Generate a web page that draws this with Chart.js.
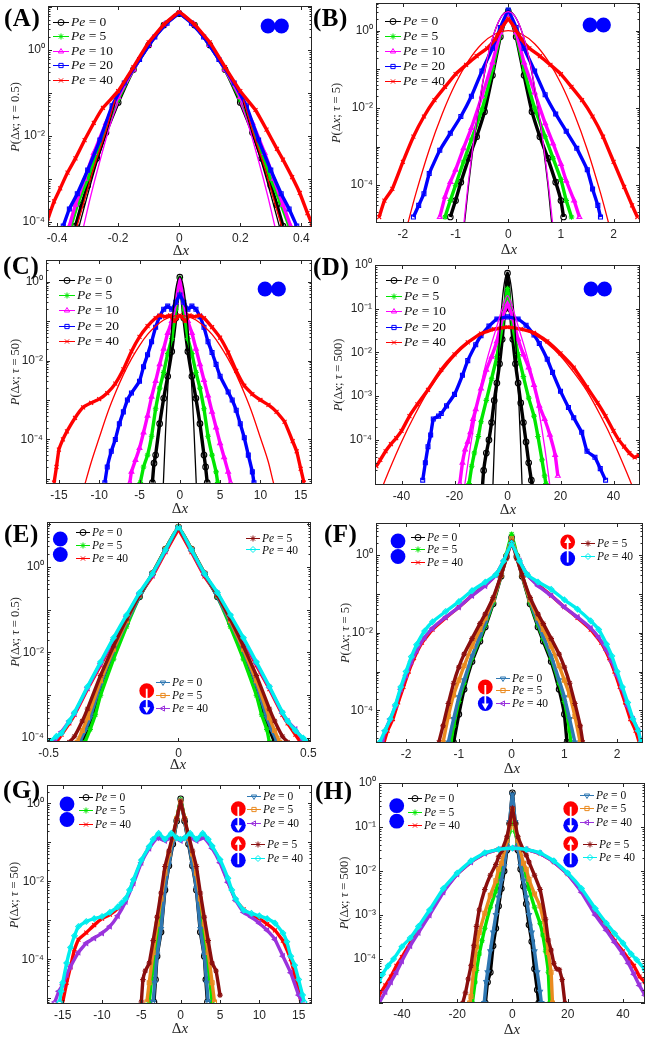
<!DOCTYPE html>
<html>
<head>
<meta charset="utf-8">
<script src="https://cdn.jsdelivr.net/npm/chart.js@4.4.1/dist/chart.umd.min.js"></script>
<style>
  body { margin: 0; width: 648px; height: 1042px; position: relative; background: #fff; overflow: hidden; font-family: "Liberation Serif", "DejaVu Serif", serif; }
  .cv { position: absolute; }
  .plab { position: absolute; font-weight: bold; font-size: 25px; line-height: 1; letter-spacing: 0.5px; color: #000; }
  .xlab, .ylab { position: absolute; white-space: nowrap; color: #262626; line-height: 1; }
  .xlab { font-size: 15px; transform: translate(-50%, -50%); }
  .ylab { font-size: 12.5px; transform: translate(-50%, -50%) rotate(-90deg); }
  .leg { position: absolute; }
  .row { display: flex; align-items: center; white-space: nowrap; color: #111; }
  .row canvas { margin-right: 2px; }
  svg.icons { position: absolute; left: 0; top: 0; pointer-events: none; }
</style>
</head>
<body>
<script>
// ---- tick values ----
const xTicksA = [-0.4, -0.2, 0, 0.2, 0.4];
const xTicksB = [-2, -1, 0, 1, 2];
const xTicksC = [-15, -10, -5, 0, 5, 10, 15];
const xTicksD = [-40, -20, 0, 20, 40];
const xTicksE = [-0.5, 0, 0.5];
const yTicks3 = [1e-4, 1e-2, 1];
const yTicks5 = [1e-4, 1e-3, 1e-2, 1e-1, 1];

// Pe labels for the legends
const peAD = ['0', '5', '10', '20', '40'];
const pePar = ['0', '5', '40'];
const peDown = ['0', '5', '40'];
const peUp = ['5', '40'];

// ---- (A) tau = 0.5 ----
const aPe0 = [[-0.34,8e-5],[-0.32,2.5e-4],[-0.3,7e-4],[-0.27,3e-3],[-0.24,0.012],[-0.2,0.06],[-0.15,0.35],[-0.1,1.3],[-0.05,3.8],[0,7],[0.05,3.8],[0.1,1.3],[0.15,0.35],[0.2,0.06],[0.24,0.012],[0.27,3e-3],[0.3,7e-4],[0.32,2.5e-4],[0.34,8e-5]];
const aPe5 = [[-0.355,8e-5],[-0.33,3e-4],[-0.3,1e-3],[-0.27,4e-3],[-0.24,0.015],[-0.2,0.07],[-0.15,0.35],[-0.1,1.3],[-0.05,3.8],[0,7.2],[0.05,3.8],[0.1,1.3],[0.15,0.35],[0.2,0.07],[0.24,0.015],[0.27,4e-3],[0.3,1e-3],[0.33,3e-4],[0.36,8e-5]];
const aPe10 = [[-0.36,8e-5],[-0.34,2.5e-4],[-0.31,1e-3],[-0.28,4e-3],[-0.24,0.02],[-0.2,0.08],[-0.15,0.35],[-0.1,1.3],[-0.05,3.8],[0,7.2],[0.05,3.8],[0.1,1.3],[0.15,0.35],[0.2,0.08],[0.24,0.02],[0.28,4e-3],[0.31,1e-3],[0.34,2.5e-4],[0.365,8e-5]];
const aPe20 = [[-0.38,8e-5],[-0.36,2e-4],[-0.334,4.5e-4],[-0.3,1.6e-3],[-0.26,8e-3],[-0.22,0.05],[-0.18,0.17],[-0.13,0.6],[-0.08,2],[-0.04,4.2],[0,7],[0.04,4.2],[0.08,2],[0.13,0.6],[0.18,0.17],[0.22,0.05],[0.26,8e-3],[0.3,1.6e-3],[0.334,4.5e-4],[0.36,2e-4],[0.385,8e-5]];
const aPe40 = [[-0.43,1.2e-4],[-0.41,3e-4],[-0.39,6e-4],[-0.366,1.4e-3],[-0.34,3e-3],[-0.31,8e-3],[-0.28,0.02],[-0.25,0.045],[-0.2,0.11],[-0.15,0.4],[-0.1,1.5],[-0.05,3.9],[0,7.5],[0.05,3.9],[0.1,1.5],[0.15,0.4],[0.2,0.11],[0.25,0.04],[0.286,0.014],[0.32,5e-3],[0.34,2.8e-3],[0.37,1.1e-3],[0.395,4.7e-4],[0.42,1.6e-4],[0.435,9e-5]];
// fitted curves: only the tails show past the markers
const aFit0 = [[-0.33,7e-5],[-0.3,4.3e-4],[-0.27,2.4e-3],[-0.24,0.011],[-0.21,0.06],[0,null],[0.21,0.06],[0.24,0.011],[0.27,2.4e-3],[0.3,4.3e-4],[0.33,7e-5]];
const aFit40 = [[-0.34,6e-5],[-0.31,3.3e-4],[-0.28,1.8e-3],[-0.24,0.013],[-0.21,0.07],[0,null],[0.21,0.07],[0.24,0.013],[0.28,1.8e-3],[0.31,3.3e-4],[0.34,6e-5]];
const aFit10 = [[-0.315,7e-5],[-0.29,4e-4],[-0.26,2.6e-3],[-0.22,0.025],[-0.2,0.06],[0,null],[0.2,0.06],[0.22,0.025],[0.26,2.6e-3],[0.29,4e-4],[0.315,7e-5]];

// ---- (B) tau = 5 ----
const bPe0 = [[-1.1,1.5e-5],[-1,4e-5],[-0.9,1.2e-4],[-0.75,5e-4],[-0.6,1.8e-3],[-0.45,8e-3],[-0.3,0.07],[-0.15,0.7],[0,3.2],[0.15,0.7],[0.3,0.07],[0.45,8e-3],[0.6,1.8e-3],[0.75,5e-4],[0.9,1.2e-4],[1,4e-5],[1.05,1.5e-5]];
const bPe5 = [[-1.2,1.5e-5],[-1.1,4e-5],[-1,1e-4],[-0.85,4e-4],[-0.7,1.5e-3],[-0.5,9e-3],[-0.3,0.1],[-0.15,0.8],[0,3.4],[0.15,0.8],[0.3,0.1],[0.5,0.01],[0.7,1.8e-3],[0.85,5e-4],[1,1.4e-4],[1.1,4e-5],[1.2,1.5e-5]];
const bPe10 = [[-1.3,1.5e-5],[-1.2,5e-5],[-1.1,1.2e-4],[-1,2.5e-4],[-0.85,9e-4],[-0.7,3e-3],[-0.5,0.02],[-0.3,0.15],[-0.15,0.9],[0,3.1],[0.15,0.9],[0.3,0.15],[0.5,0.025],[0.7,4e-3],[0.85,1.2e-3],[1,3.5e-4],[1.1,1.3e-4],[1.25,4e-5],[1.35,1.5e-5]];
const bPe20 = [[-1.8,1.5e-5],[-1.7,3e-5],[-1.6,6e-5],[-1.5,2e-4],[-1.3,8e-4],[-1.1,2.2e-3],[-0.9,6e-3],[-0.7,0.02],[-0.5,0.09],[-0.3,0.35],[-0.15,1.2],[0,3.4],[0.15,1.2],[0.3,0.35],[0.5,0.09],[0.7,0.022],[0.9,7e-3],[1.1,2.5e-3],[1.3,9e-4],[1.5,2.5e-4],[1.6,8e-5],[1.7,3e-5],[1.75,1.5e-5]];
const bPe40 = [[-2.45,1.5e-5],[-2.35,4e-5],[-2.2,8e-5],[-2,4e-4],[-1.8,1.8e-3],[-1.6,6e-3],[-1.4,0.016],[-1.2,0.035],[-1,0.075],[-0.8,0.13],[-0.6,0.22],[-0.4,0.35],[-0.25,0.6],[-0.12,1.2],[0,2],[0.12,1.2],[0.25,0.6],[0.4,0.35],[0.6,0.22],[0.8,0.13],[1,0.075],[1.2,0.035],[1.4,0.016],[1.6,6e-3],[1.8,1.8e-3],[2,4e-4],[2.2,9e-5],[2.35,3e-5],[2.45,1.5e-5]];
const bFit40 = [[-1.95,6e-6],[-1.9,1.1e-5],[-1.75,6.3e-5],[-1.5,8.3e-4],[-1.25,7.2e-3],[-1,0.043],[-0.75,0.17],[-0.5,0.46],[-0.25,0.82],[0,1],[0.25,0.82],[0.5,0.46],[0.75,0.17],[1,0.043],[1.25,7.2e-3],[1.5,8.3e-4],[1.75,6.3e-5],[1.9,1.1e-5],[1.95,6e-6]];
const bFit0 = [[-0.86,6e-6],[-0.84,8.5e-6],[-0.75,1.1e-4],[-0.6,4.5e-3],[-0.45,0.08],[-0.3,0.62],[-0.15,2.1],[0,3.2],[0.15,2.1],[0.3,0.62],[0.45,0.08],[0.6,4.5e-3],[0.75,1.1e-4],[0.82,1.2e-5],[0.84,7e-6]];
const bFit10 = [[-0.85,8e-6],[-0.76,1.1e-4],[-0.6,5e-3],[-0.45,0.085],[-0.3,0.63],[-0.15,2.1],[0,3.1],[0.15,2.1],[0.3,0.63],[0.45,0.085],[0.6,5e-3],[0.76,1.1e-4],[0.85,8e-6]];

// ---- (C) tau = 50 ----
const cPe0 = [[-3.4,8e-6],[-3.2,2.5e-5],[-3,4e-5],[-2.5,2.5e-4],[-2,1.1e-3],[-1.5,4e-3],[-1,0.017],[-0.5,0.12],[0,1.3],[0.5,0.12],[1,0.017],[1.5,4e-3],[2,1.1e-3],[2.5,2.5e-4],[3,4e-5],[3.2,2e-5],[3.4,8e-6]];
const cPe5 = [[-4.9,8e-6],[-4.5,2e-5],[-4,4e-5],[-3.5,1.2e-4],[-3,6e-4],[-2.5,2e-3],[-2,5e-3],[-1.5,0.015],[-1,0.036],[-0.5,0.2],[0,1.2],[0.5,0.2],[1,0.036],[1.5,0.015],[2,5e-3],[2.5,2e-3],[3,6e-4],[3.5,1.2e-4],[4,4e-5],[4.5,1.5e-5],[4.7,8e-6]];
const cPe10 = [[-6.2,8e-6],[-6,1.5e-5],[-5.5,3e-5],[-5,6e-5],[-4.5,1.5e-4],[-4,4e-4],[-3.5,1.2e-3],[-3,3e-3],[-2.5,8e-3],[-2,0.02],[-1.5,0.05],[-1,0.1],[-0.5,0.3],[0,1.1],[0.5,0.3],[1,0.1],[1.5,0.05],[2,0.02],[2.5,8e-3],[3,3.2e-3],[3.5,1.3e-3],[4,5e-4],[4.5,2e-4],[5,8e-5],[5.5,3.5e-5],[6,1.5e-5],[6.3,8e-6]];
const cPe20 = [[-9.3,8e-6],[-9,2e-5],[-8.5,5e-5],[-8,1e-4],[-7.5,2.5e-4],[-7,5e-4],[-6.5,1e-3],[-6,1.5e-3],[-5,3e-3],[-4.5,7e-3],[-4,0.014],[-3.5,0.03],[-3,0.07],[-2.5,0.13],[-2,0.2],[-1.5,0.24],[-1,0.2],[-0.5,0.3],[0,0.46],[0.5,0.3],[1,0.2],[1.5,0.24],[2,0.2],[2.5,0.13],[3,0.07],[3.5,0.03],[4,0.016],[4.5,8e-3],[5,4e-3],[6,1.6e-3],[6.5,1e-3],[7,5.5e-4],[7.5,2.5e-4],[8,1.1e-4],[8.5,4e-5],[9,1.5e-5],[9.2,8e-6]];
const cPe40 = [[-15.6,8e-6],[-15.3,2e-5],[-15,5.5e-5],[-14.5,1e-4],[-14,1.6e-4],[-13,3.5e-4],[-12,6.5e-4],[-11,8.5e-4],[-10,1.05e-3],[-9,1.5e-3],[-8,2.6e-3],[-7,6e-3],[-6,0.017],[-5,0.04],[-4,0.075],[-3,0.12],[-2.5,0.14],[-1.8,0.13],[-1.2,0.14],[-0.7,0.1],[0,0.14],[0.7,0.1],[1.2,0.14],[1.8,0.13],[2.5,0.14],[3,0.12],[4,0.07],[5,0.038],[6,0.016],[7,5.5e-3],[8,2.3e-3],[9,1.4e-3],[10,1e-3],[11,7.5e-4],[12,5e-4],[13,2.8e-4],[14,9e-5],[14.5,5e-5],[15,1.8e-5],[15.4,8e-6]];
const cFit40 = [[-12,5e-6],[-11.8,7e-6],[-11,2.6e-5],[-10,1.1e-4],[-9,4.5e-4],[-8,1.5e-3],[-7,4.4e-3],[-6,0.011],[-5,0.024],[-4,0.046],[-3,0.074],[-2,0.107],[-1,0.13],[0,0.14],[1,0.13],[2,0.107],[3,0.074],[4,0.046],[5,0.024],[6,0.011],[7,4.4e-3],[8,1.5e-3],[9,4.5e-4],[10,1.1e-4],[11,2.6e-5],[11.7,7e-6],[12,5e-6]];
const cFit0 = [[-2.1,4e-6],[-2,1.2e-5],[-1.75,1.9e-4],[-1.5,1.9e-3],[-1.25,0.014],[-1,0.074],[-0.5,0.65],[0,1.35],[0.5,0.65],[1,0.074],[1.25,0.014],[1.5,1.9e-3],[1.75,1.9e-4],[2,1.2e-5],[2.1,4e-6]];

// ---- (D) tau = 500 ----
const dPe0 = [[-9.5,8e-6],[-9,2e-5],[-8,5e-5],[-7,1e-4],[-6,2.5e-4],[-5,8e-4],[-4,2e-3],[-3,5.5e-3],[-2,0.02],[-1,0.1],[0,0.65],[1,0.1],[2,0.02],[3,5.5e-3],[4,2e-3],[5,7e-4],[6,2.5e-4],[7,9e-5],[8,3e-5],[9,1.2e-5],[9.5,8e-6]];
const dPe5 = [[-14.5,1e-5],[-13.5,2.5e-5],[-12.5,5e-5],[-11,1.2e-4],[-10,2.6e-4],[-8,8e-4],[-6,2.5e-3],[-4,8e-3],[-2,0.04],[0,0.29],[2,0.04],[4,9e-3],[6,2.8e-3],[8,9e-4],[10,3.5e-4],[11.5,1.2e-4],[13,3.5e-5],[14,1.5e-5],[14.5,1e-5]];
const dPe10 = [[-18,1e-5],[-17,3e-5],[-16,6e-5],[-15,9e-5],[-14,1.5e-4],[-13,3e-4],[-12,5e-4],[-10,1.5e-3],[-8,4e-3],[-6,8e-3],[-4,0.018],[-2,0.06],[0,0.13],[2,0.06],[4,0.02],[6,9e-3],[8,4.5e-3],[10,1.8e-3],[12,6e-4],[14,3e-4],[16,1.3e-4],[18,4.5e-5],[19,1.5e-5]];
const dPe20 = [[-32,1.2e-5],[-31,3e-5],[-30,7e-5],[-29,1.3e-4],[-28,3e-4],[-26,3.5e-4],[-25,4e-4],[-23,6e-4],[-20,1.1e-3],[-17,3e-3],[-15,6.5e-3],[-12,0.015],[-10,0.024],[-7,0.04],[-4,0.058],[0,0.065],[4,0.058],[7,0.042],[10,0.025],[12,0.016],[15,7e-3],[17,3.5e-3],[20,1.3e-3],[23,5.5e-4],[25,3.2e-4],[28,1.5e-4],[30,5.5e-5],[33,4e-5],[35,2.2e-5],[37,1.2e-5]];
const dPe40 = [[-49.5,2.5e-5],[-48,3.5e-5],[-46,5.5e-5],[-44,8e-5],[-42,1.1e-4],[-40,1.6e-4],[-37,3.5e-4],[-34,6.5e-4],[-30,1.4e-3],[-25,4e-3],[-20,9e-3],[-15,0.017],[-10,0.027],[-5,0.034],[0,0.038],[5,0.034],[10,0.028],[15,0.018],[20,9.5e-3],[25,4.5e-3],[30,1.6e-3],[34,7e-4],[37,3.5e-4],[40,1.6e-4],[42,1e-4],[44,7e-5],[46,5e-5],[48,4e-5],[49.5,4.5e-5]];
const dFit40 = [[-48,6e-6],[-47,9e-6],[-45,1.8e-5],[-40,9e-5],[-35,3.7e-4],[-30,1.3e-3],[-25,3.5e-3],[-20,8.3e-3],[-15,0.016],[-10,0.026],[-5,0.035],[0,0.038],[5,0.035],[10,0.026],[15,0.016],[20,8.3e-3],[25,3.5e-3],[30,1.3e-3],[35,3.7e-4],[40,9e-5],[45,1.8e-5],[47,9e-6],[48,6e-6]];
const dFit0 = [[-5.7,5e-6],[-5.5,9e-6],[-5,6.5e-5],[-4,1.8e-3],[-3,0.023],[-2,0.15],[-1,0.45],[0,0.65],[1,0.45],[2,0.15],[3,0.023],[4,1.8e-3],[5,6.5e-5],[5.5,9e-6],[5.7,5e-6]];
const dFit10 = [[-16.3,8e-6],[-14,7e-5],[-12,4e-4],[-10,1.8e-3],[-8,6e-3],[-6,0.016],[-4,0.04],[-2,0.1],[0,0.2],[2,0.1],[4,0.04],[6,0.016],[8,6e-3],[10,1.8e-3],[12,4e-4],[14,7e-5],[16.1,8e-6]];

// ---- (E) tau = 0.5 ----
const ePe0k = [[-0.37,8e-5],[-0.35,1.6e-4],[-0.33,3.5e-4],[-0.3,1.7e-3],[-0.25,0.01],[-0.2,0.05],[-0.15,0.2],[-0.1,0.7],[-0.05,2.6],[0,8.5],[0.05,2.6],[0.1,0.7],[0.15,0.2],[0.2,0.05],[0.25,0.01],[0.3,1.7e-3],[0.33,3.5e-4],[0.35,1.6e-4],[0.37,8e-5]];
const ePe5g = [[-0.36,8e-5],[-0.34,1.6e-4],[-0.32,3.5e-4],[-0.3,1e-3],[-0.25,7e-3],[-0.2,0.04],[-0.15,0.2],[-0.1,0.7],[-0.05,2.6],[0,8.5],[0.05,2.6],[0.1,0.7],[0.15,0.2],[0.2,0.04],[0.25,7e-3],[0.3,1e-3],[0.32,3.5e-4],[0.34,1.6e-4],[0.35,8e-5]];
const ePe40r = [[-0.47,8e-5],[-0.45,1.2e-4],[-0.42,2.2e-4],[-0.4,3.5e-4],[-0.35,1.4e-3],[-0.3,5e-3],[-0.25,0.019],[-0.2,0.065],[-0.15,0.22],[-0.1,0.6],[-0.05,2.2],[0,7],[0.05,2.2],[0.1,0.6],[0.15,0.22],[0.2,0.065],[0.25,0.019],[0.3,5e-3],[0.35,1.4e-3],[0.4,3.5e-4],[0.42,2.2e-4],[0.45,1.2e-4],[0.47,8e-5]];
const ePe0b = [[-0.38,8e-5],[-0.36,1.5e-4],[-0.34,3e-4],[-0.3,1.8e-3],[-0.25,0.011],[-0.2,0.05],[-0.15,0.2],[-0.1,0.7],[-0.05,2.6],[0,8.5],[0.05,2.6],[0.1,0.7],[0.15,0.2],[0.2,0.05],[0.25,0.011],[0.3,1.8e-3],[0.34,3e-4],[0.36,1.5e-4],[0.38,8e-5]];
const ePe5o = [[-0.39,8e-5],[-0.37,1.5e-4],[-0.35,3e-4],[-0.3,2.2e-3],[-0.25,0.012],[-0.2,0.055],[-0.15,0.22],[-0.1,0.7],[-0.05,2.6],[0,8.5],[0.05,2.6],[0.1,0.7],[0.15,0.22],[0.2,0.055],[0.25,0.012],[0.3,2.2e-3],[0.35,3e-4],[0.37,1.5e-4],[0.39,8e-5]];
const ePe40p = [[-0.48,8e-5],[-0.45,1.4e-4],[-0.42,2.5e-4],[-0.4,3.8e-4],[-0.35,1.5e-3],[-0.3,5.5e-3],[-0.25,0.02],[-0.2,0.07],[-0.15,0.24],[-0.1,0.65],[-0.05,2.4],[0,8],[0.05,2.4],[0.1,0.65],[0.15,0.24],[0.2,0.07],[0.25,0.02],[0.3,5.5e-3],[0.35,1.5e-3],[0.4,3.8e-4],[0.42,2.5e-4],[0.45,1.6e-4],[0.48,9e-5]];
const ePe5m = [[-0.42,8e-5],[-0.4,1.1e-4],[-0.37,2.5e-4],[-0.35,4.8e-4],[-0.3,2.9e-3],[-0.25,0.014],[-0.2,0.06],[-0.15,0.22],[-0.1,0.7],[-0.05,2.5],[0,8],[0.05,2.5],[0.1,0.7],[0.15,0.22],[0.2,0.06],[0.25,0.014],[0.3,2.9e-3],[0.35,4.8e-4],[0.37,2.5e-4],[0.4,1.1e-4],[0.42,8e-5]];
const ePe40c = [[-0.5,8e-5],[-0.47,1.1e-4],[-0.45,1.3e-4],[-0.42,2.5e-4],[-0.4,4e-4],[-0.35,1.6e-3],[-0.3,6e-3],[-0.25,0.022],[-0.2,0.075],[-0.15,0.25],[-0.1,0.7],[-0.05,2.5],[0,8.5],[0.05,2.5],[0.1,0.7],[0.15,0.25],[0.2,0.075],[0.25,0.022],[0.3,6e-3],[0.35,1.6e-3],[0.4,4e-4],[0.42,2.5e-4],[0.45,1.5e-4],[0.48,1e-4],[0.5,8e-5]];

// ---- (F) tau = 5 ----
const fPe0k = [[-1.1,1.5e-5],[-1,8e-5],[-0.9,3.5e-4],[-0.75,1.8e-3],[-0.6,6e-3],[-0.5,0.014],[-0.35,0.055],[-0.2,0.28],[-0.1,0.9],[0,2.8],[0.1,0.9],[0.2,0.28],[0.35,0.055],[0.5,0.014],[0.6,6e-3],[0.75,1.8e-3],[0.9,3.5e-4],[1,8e-5],[1.05,1.5e-5]];
const fPe5g = [[-1.15,1.5e-5],[-1.1,4e-5],[-1,1.7e-4],[-0.9,5e-4],[-0.75,2.2e-3],[-0.6,7e-3],[-0.5,0.016],[-0.35,0.06],[-0.2,0.3],[-0.1,1],[0,3.4],[0.1,1],[0.2,0.3],[0.35,0.06],[0.5,0.016],[0.6,7e-3],[0.75,2.2e-3],[0.9,5e-4],[1,1.7e-4],[1.1,3e-5],[1.12,1.5e-5]];
const fPe40r = [[-2.42,1.5e-5],[-2.35,3e-5],[-2.25,6e-5],[-2.15,1.6e-4],[-2.05,4e-4],[-1.95,1e-3],[-1.85,2.2e-3],[-1.7,5.5e-3],[-1.5,0.012],[-1.25,0.024],[-1,0.045],[-0.75,0.09],[-0.5,0.17],[-0.3,0.3],[-0.15,0.7],[0,1.9],[0.15,0.7],[0.3,0.3],[0.5,0.17],[0.75,0.09],[1,0.045],[1.25,0.024],[1.5,0.012],[1.7,5.5e-3],[1.85,2.2e-3],[1.95,1e-3],[2.05,4e-4],[2.15,1.6e-4],[2.25,6e-5],[2.35,3e-5],[2.42,1.5e-5]];
const fPe0b = [[-1.2,1.5e-5],[-1.1,6e-5],[-1,2.2e-4],[-0.9,6e-4],[-0.75,2.5e-3],[-0.6,8e-3],[-0.5,0.018],[-0.35,0.065],[-0.2,0.3],[-0.1,0.9],[0,2.5],[0.1,0.9],[0.2,0.3],[0.35,0.065],[0.5,0.018],[0.6,8e-3],[0.75,2.5e-3],[0.9,6e-4],[1,2.2e-4],[1.1,6e-5],[1.2,1.5e-5]];
const fPe5o = [[-1.3,1.5e-5],[-1.2,7e-5],[-1.1,2.5e-4],[-1,6e-4],[-0.9,1.4e-3],[-0.75,4.5e-3],[-0.6,0.012],[-0.5,0.024],[-0.35,0.07],[-0.2,0.3],[-0.1,0.9],[0,2.6],[0.1,0.9],[0.2,0.3],[0.35,0.07],[0.5,0.024],[0.6,0.012],[0.75,4.5e-3],[0.9,1.4e-3],[1,6e-4],[1.1,2.5e-4],[1.2,7e-5],[1.3,1.5e-5]];
const fPe40p = [[-2.45,1.5e-5],[-2.4,3e-5],[-2.3,6e-5],[-2.2,1.3e-4],[-2.1,3.5e-4],[-2,8e-4],[-1.9,1.8e-3],[-1.8,3.5e-3],[-1.65,7.5e-3],[-1.5,0.013],[-1.25,0.025],[-1,0.045],[-0.75,0.09],[-0.5,0.16],[-0.3,0.3],[-0.15,0.7],[0,1.9],[0.15,0.7],[0.3,0.3],[0.5,0.16],[0.75,0.09],[1,0.045],[1.25,0.025],[1.5,0.013],[1.65,7.5e-3],[1.8,3.5e-3],[1.9,1.8e-3],[2,8e-4],[2.1,3.5e-4],[2.2,1.3e-4],[2.3,6e-5],[2.4,3e-5],[2.45,1.5e-5]];
const fPe5m = [[-1.38,1.5e-5],[-1.3,4e-5],[-1.2,1.5e-4],[-1.1,5e-4],[-1,1.3e-3],[-0.9,2.8e-3],[-0.75,7e-3],[-0.6,0.017],[-0.5,0.03],[-0.35,0.08],[-0.2,0.3],[-0.1,0.8],[0,2.2],[0.1,0.8],[0.2,0.3],[0.35,0.08],[0.5,0.03],[0.6,0.017],[0.75,7e-3],[0.9,2.8e-3],[1,1.3e-3],[1.1,5e-4],[1.2,1.5e-4],[1.3,4e-5],[1.35,1.5e-5]];
const fPe40c = [[-2.5,1.5e-5],[-2.4,3e-5],[-2.3,6e-5],[-2.2,1.4e-4],[-2.1,4e-4],[-2,1e-3],[-1.9,2.4e-3],[-1.8,4.9e-3],[-1.65,0.011],[-1.5,0.019],[-1.25,0.035],[-1,0.063],[-0.75,0.12],[-0.5,0.2],[-0.3,0.31],[-0.15,0.7],[0,2],[0.15,0.7],[0.3,0.31],[0.5,0.2],[0.75,0.13],[1,0.07],[1.25,0.04],[1.5,0.02],[1.65,0.012],[1.8,5e-3],[1.9,2.5e-3],[2,1e-3],[2.1,4e-4],[2.2,1.6e-4],[2.3,6e-5],[2.4,3e-5],[2.45,1.5e-5]];

// ---- (G) tau = 50 ----
const gPe0k = [[-3.4,8e-6],[-3.2,3e-5],[-3,1.2e-4],[-2.5,5e-4],[-2,6e-3],[-1.5,0.025],[-1,0.09],[-0.5,0.35],[0,1.3],[0.5,0.35],[1,0.09],[1.5,0.025],[2,6e-3],[2.5,5e-4],[3,1.2e-4],[3.2,3e-5],[3.4,8e-6]];
const gPe5g = [[-4,8e-6],[-3.7,3e-5],[-3.5,6e-5],[-3,4e-4],[-2.5,2.5e-3],[-2,0.011],[-1.5,0.04],[-1,0.12],[-0.5,0.4],[0,1.25],[0.5,0.4],[1,0.12],[1.5,0.04],[2,0.011],[2.5,2.5e-3],[3,4e-4],[3.5,6e-5],[3.7,3e-5],[4,8e-6]];
const gPe40r = [[-15,8e-6],[-14.5,2.5e-5],[-14,6.5e-5],[-13.5,1.8e-4],[-13,3.2e-4],[-12,4.8e-4],[-11,7.5e-4],[-10,1.1e-3],[-9,1.4e-3],[-8,2e-3],[-7,3.3e-3],[-6,0.01],[-5,0.033],[-4,0.075],[-3,0.14],[-2,0.12],[-1,0.15],[0,0.12],[1,0.15],[2,0.12],[3,0.14],[4,0.075],[5,0.033],[6,0.01],[7,3.3e-3],[8,1.9e-3],[9,1.4e-3],[10,1.1e-3],[11,8e-4],[12,5.5e-4],[13,3e-4],[14,1e-4],[14.5,4e-5],[15,1.5e-5],[15.3,8e-6]];
const gPe0b = [[-3.5,8e-6],[-3.3,2.5e-5],[-3,1.3e-4],[-2.5,6e-4],[-2,6.5e-3],[-1.5,0.027],[-1,0.1],[-0.5,0.35],[0,1.2],[0.5,0.35],[1,0.1],[1.5,0.027],[2,6.5e-3],[2.5,6e-4],[3,1.3e-4],[3.3,2.5e-5],[3.5,8e-6]];
const gPe5o = [[-4.3,8e-6],[-4,2.5e-5],[-3.5,1.5e-4],[-3,8e-4],[-2.5,3.5e-3],[-2,0.016],[-1.5,0.05],[-1,0.13],[-0.5,0.4],[0,1.15],[0.5,0.4],[1,0.13],[1.5,0.05],[2,0.016],[2.5,3.5e-3],[3,8e-4],[3.5,1.5e-4],[4,2.5e-5],[4.3,8e-6]];
const gPe40p = [[-16,8e-6],[-15.5,1.5e-5],[-15,2.2e-5],[-14.5,4e-5],[-14,6.5e-5],[-13,1.5e-4],[-12,2.6e-4],[-11,3.5e-4],[-10,4.7e-4],[-9,7e-4],[-8,1.3e-3],[-7,3e-3],[-6,9e-3],[-5,0.03],[-4,0.07],[-3,0.13],[-2,0.11],[-1,0.14],[0,0.11],[1,0.14],[2,0.11],[3,0.13],[4,0.07],[5,0.03],[6,9.5e-3],[7,3.2e-3],[8,1.6e-3],[9,1.2e-3],[10,8.4e-4],[11,5.5e-4],[12,3.2e-4],[13,1.2e-4],[14,4.5e-5],[15,1.2e-5],[15.5,8e-6]];
const gPe5m = [[-5,8e-6],[-4.8,3e-5],[-4.5,5e-5],[-4,8e-5],[-3.5,3e-4],[-3,1.2e-3],[-2.5,5e-3],[-2,0.024],[-1.5,0.06],[-1,0.15],[-0.5,0.4],[0,1.1],[0.5,0.4],[1,0.15],[1.5,0.06],[2,0.024],[2.5,5e-3],[3,1.2e-3],[3.5,3e-4],[4,8e-5],[4.5,5e-5],[5,1.2e-5]];
const gPe40c = [[-15.4,8e-6],[-15.2,1.5e-5],[-15,2.5e-5],[-14.5,8e-5],[-14,2e-4],[-13.5,4e-4],[-13,6.9e-4],[-12,9.3e-4],[-11,1.1e-3],[-10,1.25e-3],[-9,1.6e-3],[-8,2.2e-3],[-7.5,2.8e-3],[-7,3.6e-3],[-6.5,6e-3],[-6,0.011],[-5,0.035],[-4,0.078],[-3.5,0.12],[-2.8,0.17],[-2,0.12],[-1.2,0.17],[-0.5,0.13],[0,0.12],[0.5,0.13],[1.2,0.17],[2,0.12],[2.8,0.17],[3.5,0.12],[4,0.08],[5,0.036],[6,0.012],[6.5,6e-3],[7,3.5e-3],[8,1.8e-3],[9,1.5e-3],[10,1.3e-3],[11,1.1e-3],[12,8.4e-4],[13,4.7e-4],[13.5,2.8e-4],[14,1.2e-4],[14.5,7e-5],[15,3e-5],[15.5,1.2e-5],[15.7,8e-6]];

// ---- (H) tau = 500 ----
const hPe0k = [[-9.8,1e-5],[-9,3e-5],[-8,5e-5],[-7,2e-4],[-6,5e-4],[-5,1.6e-3],[-4,4e-3],[-3,0.01],[-2,0.03],[-1,0.12],[0,0.6],[1,0.12],[2,0.03],[3,0.011],[4,4.5e-3],[5,1.8e-3],[6,6e-4],[7,2.5e-4],[8,6e-5],[9,2e-5],[9.5,1e-5]];
const hPe5g = [[-14.5,1e-5],[-13.5,3e-5],[-13,5.5e-5],[-12,1.3e-4],[-11,2.6e-4],[-10,5e-4],[-8,1.5e-3],[-6,3.5e-3],[-5,7e-3],[-4,0.012],[-2,0.04],[-1,0.08],[0,0.19],[1,0.08],[2,0.04],[4,0.013],[5,8e-3],[6,4e-3],[8,1.5e-3],[10,6.5e-4],[11,3.5e-4],[12,1.5e-4],[13,5e-5],[13.5,1e-5]];
const hPe40r = [[-48.3,1.5e-5],[-46,2.5e-5],[-44,4e-5],[-42,7e-5],[-40,1.1e-4],[-37,2.3e-4],[-34,4.5e-4],[-30,1.1e-3],[-25,3.5e-3],[-20,8.5e-3],[-15,0.016],[-10,0.025],[-5,0.031],[0,0.033],[5,0.031],[10,0.025],[15,0.016],[20,8.5e-3],[25,3.5e-3],[30,1.1e-3],[34,5e-4],[37,2.6e-4],[40,1.5e-4],[42,1e-4],[44,7e-5],[46,4e-5],[48,3e-5]];
const hPe0b = [[-10.2,1e-5],[-9.5,3e-5],[-9,5e-5],[-8,1.5e-4],[-7,4e-4],[-6,1e-3],[-5,2.5e-3],[-4,6e-3],[-3,0.013],[-2,0.035],[-1,0.13],[0,0.55],[1,0.13],[2,0.035],[3,0.013],[4,6e-3],[5,2.5e-3],[6,1e-3],[7,4e-4],[8,1.5e-4],[9,5e-5],[10,1.8e-5],[10.5,1e-5]];
const hPe5o = [[-15.5,1e-5],[-15,1.4e-5],[-14,6e-5],[-13,1.9e-4],[-12,4e-4],[-10,1.1e-3],[-8,2.8e-3],[-6,6e-3],[-5,0.011],[-4,0.015],[-2,0.05],[-1,0.1],[0,0.25],[1,0.1],[2,0.05],[4,0.015],[5,0.011],[6,6.5e-3],[8,3e-3],[10,1.6e-3],[12,4.5e-4],[13,1.4e-4],[14,5e-5],[14.5,1e-5]];
const hPe40p = [[-48.3,1e-5],[-46,1.8e-5],[-44,3e-5],[-42,5e-5],[-40,9e-5],[-37,2e-4],[-34,4e-4],[-30,1e-3],[-25,3.3e-3],[-20,8.5e-3],[-15,0.016],[-10,0.025],[-5,0.031],[0,0.033],[5,0.031],[10,0.025],[15,0.016],[20,8.5e-3],[25,3.3e-3],[30,1e-3],[34,4.5e-4],[37,2.4e-4],[40,1.3e-4],[42,8e-5],[44,4.5e-5],[46,2.5e-5],[48,1.5e-5]];
const hPe5m = [[-18,1e-5],[-17,1.7e-5],[-16,3.5e-5],[-15,7e-5],[-14,2e-4],[-13,5.5e-4],[-12,1.3e-3],[-10,3.8e-3],[-8,8e-3],[-6,0.014],[-5,0.021],[-4,0.028],[-2,0.06],[-1,0.12],[0,0.27],[1,0.12],[2,0.06],[4,0.03],[5,0.023],[6,0.016],[8,8e-3],[10,3.8e-3],[12,8e-4],[13,2.7e-4],[14,1.6e-4],[15,8e-5],[16,6e-5],[17,5.7e-5],[18,3.4e-5],[19,1e-5]];
const hPe40c = [[-48.3,3e-5],[-47,4.5e-5],[-45,7e-5],[-43,1e-4],[-40,1.9e-4],[-37,3e-4],[-34,5.5e-4],[-30,1.3e-3],[-25,4e-3],[-20,9e-3],[-15,0.017],[-10,0.026],[-5,0.031],[0,0.033],[5,0.031],[10,0.026],[15,0.017],[20,9e-3],[25,4e-3],[30,1.4e-3],[34,6.5e-4],[37,3.8e-4],[40,2.3e-4],[43,1.3e-4],[45,9.6e-5],[48,5.7e-5]];

// ---- styles ----
const COL = { k: '#000000', g: '#00e600', m: '#ff00ff', b: '#0000ff', r: '#ff0000',
              sb: '#2f78b3', o: '#ea8a1f', p: '#9a33dc', mr: '#8a0e0e', c: '#00eeee' };
const MARK = { k: ['circle', 0], g: ['star', 0], m: ['triangle', 0], b: ['rect', 0], r: ['crossRot', 0],
               sb: ['triangle', 180], o: ['rect', 0], p: ['triangle', -90], mr: ['star', 0], c: ['rectRot', 0] };

const panels = [
  { id: 'A', box: [48, 6, 312, 227], xr: [-0.43, 0.435], yr: [7.6e-5, 10.5], xt: xTicksA, yt: yTicks3, tau: '0.5',
    series: [['k', aPe0], ['g', aPe5], ['m', aPe10], ['b', aPe20], ['r', aPe40]],
    fits: [['k', aFit0], ['r', aFit40], ['m', aFit10]] },
  { id: 'B', box: [376, 3, 640, 223], xr: [-2.51, 2.5], yr: [1.05e-5, 5.2], xt: xTicksB, yt: yTicks3, tau: '5',
    series: [['k', bPe0], ['g', bPe5], ['m', bPe10], ['b', bPe20], ['r', bPe40]],
    fits: [['r', bFit40], ['k', bFit0], ['m', bFit10]] },
  { id: 'C', box: [46, 260, 312, 484], xr: [-16.6, 16.4], yr: [7.4e-6, 3.55], xt: xTicksC, yt: yTicks3, tau: '50',
    series: [['k', cPe0], ['g', cPe5], ['m', cPe10], ['b', cPe20], ['r', cPe40]],
    fits: [['r', cFit40], ['k', cFit0]] },
  { id: 'D', box: [375, 265, 640, 485], xr: [-50, 50], yr: [9.3e-6, 1], xt: xTicksD, yt: yTicks5, tau: '500',
    series: [['k', dPe0], ['g', dPe5], ['m', dPe10], ['b', dPe20], ['r', dPe40]],
    fits: [['r', dFit40], ['k', dFit0], ['m', dFit10]] },
  { id: 'E', box: [47, 522, 311, 742], xr: [-0.506, 0.51], yr: [8.1e-5, 11.2], xt: xTicksE, yt: yTicks3, tau: '0.5',
    series: [['k', ePe0k], ['g', ePe5g], ['r', ePe40r], ['sb', ePe0b], ['o', ePe5o], ['p', ePe40p], ['mr', ePe5m], ['c', ePe40c]] },
  { id: 'F', box: [376, 523, 643, 743], xr: [-2.57, 2.49], yr: [1.45e-5, 6.6], xt: xTicksB, yt: yTicks3, tau: '5',
    series: [['k', fPe0k], ['g', fPe5g], ['r', fPe40r], ['sb', fPe0b], ['o', fPe5o], ['p', fPe40p], ['mr', fPe5m], ['c', fPe40c]] },
  { id: 'G', box: [47, 785, 312, 1004], xr: [-17, 16.7], yr: [7.1e-6, 2.95], xt: xTicksC, yt: yTicks3, tau: '50',
    series: [['k', gPe0k], ['g', gPe5g], ['r', gPe40r], ['sb', gPe0b], ['o', gPe5o], ['p', gPe40p], ['mr', gPe5m], ['c', gPe40c]] },
  { id: 'H', box: [379, 783, 645, 1003], xr: [-48.3, 48], yr: [1e-5, 1], xt: xTicksD, yt: yTicks5, tau: '500',
    series: [['k', hPe0k], ['g', hPe5g], ['r', hPe40r], ['sb', hPe0b], ['o', hPe5o], ['p', hPe40p], ['mr', hPe5m], ['c', hPe40c]] }
];

const SUP = { '-': '\u207B', '0': '\u2070', '1': '\u00B9', '2': '\u00B2', '3': '\u00B3', '4': '\u2074', '5': '\u2075' };
function decade(v) {
  const e = Math.round(Math.log10(v));
  return '10' + String(e).split('').map(ch => SUP[ch]).join('');
}

// box around the plot area with inward ticks (MATLAB style)
const boxPlugin = {
  id: 'box',
  afterDraw(chart) {
    const { ctx, chartArea: a, scales: { x, y } } = chart;
    ctx.save();
    ctx.strokeStyle = '#262626';
    ctx.lineWidth = 1;
    ctx.strokeRect(a.left + 0.5, a.top + 0.5, a.right - a.left - 1, a.bottom - a.top - 1);
    ctx.beginPath();
    x.ticks.forEach(t => {
      const px = Math.round(x.getPixelForValue(t.value)) + 0.5;
      ctx.moveTo(px, a.bottom); ctx.lineTo(px, a.bottom - 4);
      ctx.moveTo(px, a.top); ctx.lineTo(px, a.top + 4);
    });
    const e0 = Math.floor(Math.log10(y.min)), e1 = Math.ceil(Math.log10(y.max));
    for (let e = e0; e <= e1; e++) {
      for (let m = 1; m < 10; m++) {
        const v = m * Math.pow(10, e);
        if (v < y.min || v > y.max) continue;
        const py = Math.round(y.getPixelForValue(v)) + 0.5;
        const len = m === 1 ? 4 : 2.5;
        ctx.moveTo(a.left, py); ctx.lineTo(a.left + len, py);
        ctx.moveTo(a.right, py); ctx.lineTo(a.right - len, py);
      }
    }
    ctx.stroke();
    ctx.restore();
  }
};

const YW = 44, XH = 22, PT = 10, PR = 8;
const tickFont = { family: '"Liberation Sans", Arial, sans-serif', size: 12 };

panels.forEach(p => {
  const [L, T, R, B] = p.box;
  const wrap = document.createElement('div');
  wrap.className = 'cv';
  wrap.style.left = (L - YW) + 'px';
  wrap.style.top = (T - PT) + 'px';
  const cv = document.createElement('canvas');
  const W = R - L + YW + PR, H = B - T + PT + XH;
  cv.width = W; cv.height = H;
  cv.style.width = W + 'px'; cv.style.height = H + 'px';
  wrap.appendChild(cv);
  document.body.appendChild(wrap);

  const datasets = [];
  p.series.forEach(([c, d], i) => {
    datasets.push({
      data: d, borderColor: COL[c], backgroundColor: 'rgba(0,0,0,0)', borderWidth: 3.4, fill: false,
      pointStyle: MARK[c][0], pointRotation: MARK[c][1], pointRadius: 2.8, pointBorderWidth: 1.1,
      pointBorderColor: COL[c], pointBackgroundColor: 'rgba(0,0,0,0)', tension: 0.1, clip: 0, order: -i
    });
  });
  (p.fits || []).forEach(([c, d], j) => {
    datasets.push({
      data: d, borderColor: COL[c], borderWidth: 1.3, pointRadius: 0, fill: false,
      cubicInterpolationMode: 'monotone', clip: 0, order: -100 - j
    });
  });

  new Chart(cv, {
    type: 'line',
    data: { datasets },
    options: {
      responsive: false,
      animation: false,
      events: [],
      layout: { padding: { left: 0, top: PT, right: PR, bottom: 0 } },
      plugins: { legend: { display: false }, tooltip: { enabled: false } },
      scales: {
        x: {
          type: 'linear', min: p.xr[0], max: p.xr[1], bounds: 'data',
          grid: { display: false, drawTicks: false }, border: { display: false },
          ticks: { font: tickFont, color: '#262626', padding: 4, maxRotation: 0, autoSkip: false, callback: v => String(v) },
          afterBuildTicks: s => { s.ticks = p.xt.map(v => ({ value: v })); },
          afterFit: s => { s.height = XH; s.paddingLeft = 0; s.paddingRight = 0; }
        },
        y: {
          type: 'logarithmic', min: p.yr[0], max: p.yr[1], bounds: 'data',
          grid: { display: false, drawTicks: false }, border: { display: false },
          ticks: { font: tickFont, color: '#262626', padding: 3, autoSkip: false, callback: v => decade(v) },
          afterBuildTicks: s => { s.ticks = p.yt.map(v => ({ value: v })); },
          afterFit: s => { s.width = YW; s.paddingTop = 0; s.paddingBottom = 0; }
        }
      }
    },
    plugins: [boxPlugin]
  });
});

// ---- text: panel letters, axis titles ----
function addDiv(cls, html, left, top) {
  const d = document.createElement('div');
  d.className = cls;
  d.innerHTML = html;
  d.style.left = left + 'px';
  d.style.top = top + 'px';
  document.body.appendChild(d);
  return d;
}
const letterPos = { A: [4, 5], B: [313, 5], C: [3, 253], D: [313, 254], E: [4, 521], F: [324, 521], G: [3, 777], H: [315, 778] };
const xlabPos = { A: [181, 250], B: [509, 249], C: [180, 508], D: [508, 509], E: [178, 764], F: [512, 768], G: [180, 1028], H: [512, 1029] };
const ylabPos = { A: [15, 117], B: [336, 113], C: [15, 372], D: [338, 375], E: [15, 632], F: [345, 633], G: [14, 895], H: [344, 893] };
panels.forEach(p => {
  addDiv('plab', '(' + p.id + ')', letterPos[p.id][0], letterPos[p.id][1]);
  addDiv('xlab', '\u0394<i>x</i>', xlabPos[p.id][0], xlabPos[p.id][1]);
  addDiv('ylab', '<i>P</i>(\u0394<i>x</i>; <i>\u03C4</i> = ' + p.tau + ')', ylabPos[p.id][0], ylabPos[p.id][1]);
});

// ---- legends ----
function legend(left, firstY, rowH, fs, keys, pes) {
  const d = document.createElement('div');
  d.className = 'leg';
  d.style.left = left + 'px';
  d.style.top = (firstY - rowH / 2) + 'px';
  const lw = fs > 12 ? 16 : 14;
  keys.forEach((k, i) => {
    const row = document.createElement('div');
    row.className = 'row';
    row.style.height = rowH + 'px';
    row.style.fontSize = fs + 'px';
    const c = document.createElement('canvas');
    c.width = lw; c.height = 10;
    const ctx = c.getContext('2d');
    ctx.strokeStyle = COL[k];
    ctx.lineWidth = 1;
    ctx.beginPath(); ctx.moveTo(0, 5.5); ctx.lineTo(lw, 5.5); ctx.stroke();
    ctx.fillStyle = 'rgba(0,0,0,0)';
    if (Chart.helpers && Chart.helpers.drawPoint) {
      Chart.helpers.drawPoint(ctx, { pointStyle: MARK[k][0], rotation: MARK[k][1], radius: 3, borderWidth: 1 }, lw / 2, 5.5);
    }
    row.appendChild(c);
    const s = document.createElement('span');
    s.innerHTML = '<i>Pe</i> = ' + pes[i];
    row.appendChild(s);
    d.appendChild(row);
  });
  document.body.appendChild(d);
}
const keysAD = ['k', 'g', 'm', 'b', 'r'];
const keysPar = ['k', 'g', 'r'], keysDown = ['sb', 'o', 'p'], keysUp = ['mr', 'c'];
legend(53, 21.7, 14.6, 13.5, keysAD, peAD);
legend(385, 20.7, 15.1, 13.5, keysAD, peAD);
legend(59, 280, 15.2, 13.5, keysAD, peAD);
legend(386, 280.3, 15.5, 13.5, keysAD, peAD);
legend(76, 531.7, 13.3, 11.5, keysPar, pePar);
legend(246, 537.7, 11.8, 11.5, keysUp, peUp);
legend(156, 681.7, 13.3, 11.5, keysDown, peDown);
legend(411, 536.7, 12.8, 11.5, keysPar, pePar);
legend(581, 543.3, 12.7, 11.5, keysUp, peUp);
legend(496, 677.7, 12.8, 11.5, keysDown, peDown);
legend(79, 796.7, 13.8, 11.5, keysPar, pePar);
legend(247, 796, 13.3, 11.5, keysDown, peDown);
legend(251, 844, 13.7, 11.5, keysUp, peUp);
legend(408, 798.3, 13.3, 11.5, keysPar, pePar);
legend(580, 795, 13.3, 11.5, keysDown, peDown);
legend(583, 844, 13.3, 11.5, keysUp, peUp);

// ---- particle icons ----
const NS = 'http://www.w3.org/2000/svg';
const svg = document.createElementNS(NS, 'svg');
svg.setAttribute('class', 'icons');
svg.setAttribute('width', 648);
svg.setAttribute('height', 1042);
document.body.appendChild(svg);
function el(tag, attrs) {
  const e = document.createElementNS(NS, tag);
  for (const k in attrs) e.setAttribute(k, attrs[k]);
  svg.appendChild(e);
  return e;
}
const RAD = 7.4;
[[268, 26], [590, 25], [265, 289], [591, 289]].forEach(([x, y]) => {
  el('circle', { cx: x, cy: y, r: RAD, fill: '#0000ff' });
  el('circle', { cx: x + 13.5, cy: y, r: RAD, fill: '#0000ff' });
});
[[60.3, 539], [398, 541], [67, 804], [396.7, 805.7]].forEach(([x, y]) => {
  el('circle', { cx: x, cy: y, r: RAD, fill: '#0000ff' });
  el('circle', { cx: x, cy: y + 15.5, r: RAD, fill: '#0000ff' });
});
function arrowPair(x, y, down) {
  const yb = y + 16.5;
  el('circle', { cx: x, cy: y, r: RAD, fill: '#ff0000' });
  el('circle', { cx: x, cy: yb, r: RAD, fill: '#0000ff' });
  if (down) {
    el('line', { x1: x, y1: y - 2, x2: x, y2: yb + 1, stroke: '#fff', 'stroke-width': 1.8 });
    el('polygon', { points: `${x - 3.5},${yb} ${x + 3.5},${yb} ${x},${yb + 6}`, fill: '#fff' });
  } else {
    el('line', { x1: x, y1: yb + 4, x2: x, y2: y, stroke: '#fff', 'stroke-width': 1.8 });
    el('polygon', { points: `${x - 3.5},${y + 1} ${x + 3.5},${y + 1} ${x},${y - 5}`, fill: '#fff' });
  }
}
[[146.7, 690.7], [485.3, 687], [238.3, 808.7], [570.7, 808.7]].forEach(([x, y]) => arrowPair(x, y, true));
[[567.7, 542], [238.3, 843.7], [570.7, 843.7]].forEach(([x, y]) => arrowPair(x, y, false));
</script>
</body>
</html>
